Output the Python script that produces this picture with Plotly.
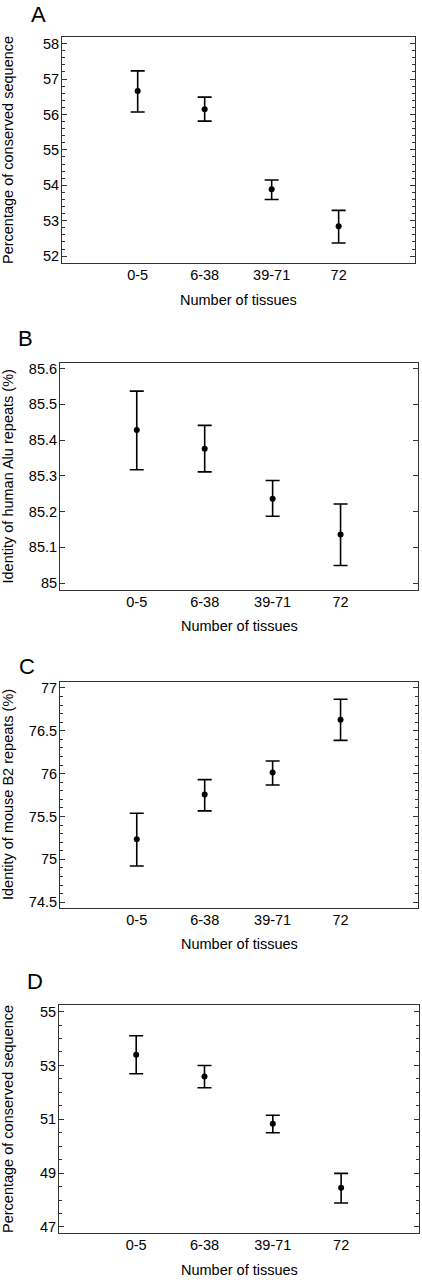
import plotly.graph_objects as go

W, H = 422, 1280

tissue_groups = ["0-5", "6-38", "39-71", "72"]
x_title = "Number of tissues"

# panel A: conserved sequence (human)
a_mean = [56.66, 56.15, 53.89, 52.84]
a_upper = [57.23, 56.49, 54.15, 53.29]
a_lower = [56.07, 55.81, 53.60, 52.37]

# panel B: identity of human Alu repeats
b_mean = [85.428, 85.376, 85.236, 85.136]
b_upper = [85.537, 85.441, 85.287, 85.221]
b_lower = [85.317, 85.311, 85.187, 85.049]

# panel C: identity of mouse B2 repeats
c_mean = [75.233, 75.756, 76.012, 76.628]
c_upper = [75.538, 75.930, 76.147, 76.868]
c_lower = [74.922, 75.565, 75.867, 76.387]

# panel D: conserved sequence (mouse)
d_mean = [53.40, 52.59, 50.83, 48.46]
d_upper = [54.10, 53.00, 51.15, 48.99]
d_lower = [52.69, 52.17, 50.50, 47.89]

panels = [
    dict(letter="A", ytitle="Percentage of conserved sequence",
         mean=a_mean, upper=a_upper, lower=a_lower,
         box=(62, 415, 35, 262), yrange=[51.8, 58.19], dtick=1, tick0=52, minor=0.2,
         letter_xy=(38, 13), xtitle_y=299),
    dict(letter="B", ytitle="Identity of human Alu repeats (%)",
         mean=b_mean, upper=b_upper, lower=b_lower,
         box=(60, 418, 362, 590), yrange=[84.98, 85.616], dtick=0.1, tick0=85, minor=None,
         letter_xy=(25, 338), xtitle_y=626),
    dict(letter="C", ytitle="Identity of mouse B2 repeats (%)",
         mean=c_mean, upper=c_upper, lower=c_lower,
         box=(60, 418, 682, 909), yrange=[74.43, 77.07], dtick=0.5, tick0=74.5, minor=0.1,
         letter_xy=(27, 667), xtitle_y=945),
    dict(letter="D", ytitle="Percentage of conserved sequence",
         mean=d_mean, upper=d_upper, lower=d_lower,
         box=(59, 419, 1006, 1235), yrange=[46.77, 55.25], dtick=2, tick0=47, minor=0.5,
         letter_xy=(35, 983), xtitle_y=1272),
]

FONT = "Liberation Sans, Arial, sans-serif"
LINE = "#333333"


def px_x(x):
    return x / W


def px_y(y):
    return 1 - y / H


fig = go.Figure()
annotations = []
xpos = [1, 2, 3, 4]

for i, p in enumerate(panels):
    n = "" if i == 0 else str(i + 1)
    err_up = [u - m for u, m in zip(p["upper"], p["mean"])]
    err_dn = [m - l for m, l in zip(p["mean"], p["lower"])]
    fig.add_trace(go.Scatter(
        x=xpos, y=p["mean"], mode="markers",
        marker=dict(color="black", size=6),
        error_y=dict(type="data", symmetric=False, array=err_up, arrayminus=err_dn,
                     color="black", thickness=1.6, width=7),
        xaxis="x" + n, yaxis="y" + n, showlegend=False,
    ))
    x0, x1, y0, y1 = p["box"]
    fig.layout["xaxis" + n] = dict(
        domain=[px_x(x0), px_x(x1)], range=[-0.13, 5.14],
        tickvals=xpos, ticktext=tissue_groups, ticks="",
        showline=True, linecolor=LINE, linewidth=1, mirror=True,
        showgrid=False, zeroline=False, anchor="y" + n,
        tickfont=dict(family=FONT, size=14.5, color="black"),
        ticklabelstandoff=-2,
    )
    yax = dict(
        domain=[px_y(y1), px_y(y0)], range=p["yrange"],
        tick0=p["tick0"], dtick=p["dtick"], ticks="inside", ticklen=5,
        tickcolor=LINE, tickwidth=1,
        showline=True, linecolor=LINE, linewidth=1, mirror="ticks",
        showgrid=False, zeroline=False, anchor="x" + n,
        tickfont=dict(family=FONT, size=14.5, color="black"),
        ticklabelstandoff=-1,
    )
    if p["minor"]:
        yax["minor"] = dict(ticks="inside", ticklen=3, dtick=p["minor"], tick0=p["tick0"],
                            tickcolor=LINE, tickwidth=1, showgrid=False)
    fig.layout["yaxis" + n] = yax

    annotations.append(dict(
        text=p["letter"], x=px_x(p["letter_xy"][0]), y=px_y(p["letter_xy"][1]),
        xref="paper", yref="paper", xanchor="center", yanchor="middle",
        showarrow=False, font=dict(family=FONT, size=22, color="black"),
    ))
    annotations.append(dict(
        text=x_title, x=px_x((x0 + x1) / 2), y=px_y(p["xtitle_y"]),
        xref="paper", yref="paper", xanchor="center", yanchor="middle",
        showarrow=False, font=dict(family=FONT, size=14.5, color="black"),
    ))
    annotations.append(dict(
        text=p["ytitle"], x=px_x(8), y=px_y((y0 + y1) / 2), textangle=-90,
        xref="paper", yref="paper", xanchor="center", yanchor="middle",
        showarrow=False, font=dict(family=FONT, size=14.5, color="black"),
    ))

fig.update_layout(
    width=W, height=H,
    margin=dict(l=0, r=0, t=0, b=0),
    paper_bgcolor="white", plot_bgcolor="white",
    annotations=annotations,
)

# the page's default body margin would push the figure 8px down and right
fig.write_html("out.html", config={"displayModeBar": False},
               post_script="document.body.style.margin = '0';")
